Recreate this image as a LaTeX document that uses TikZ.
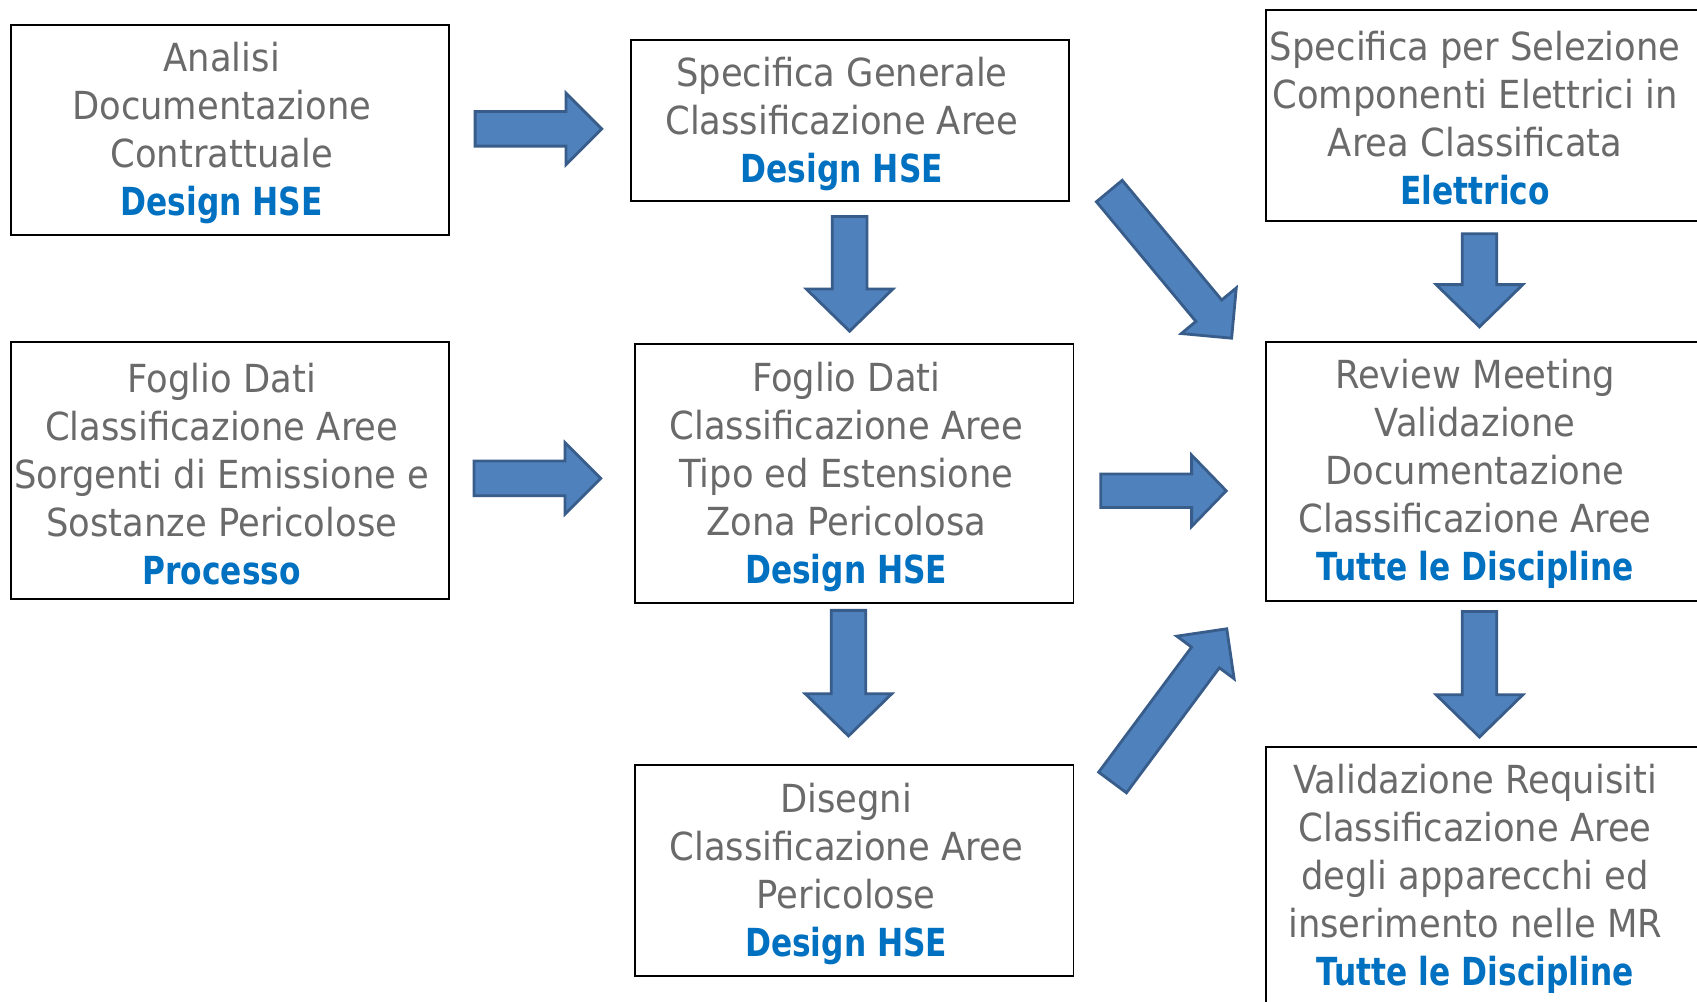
\documentclass[tikz,border=0pt]{standalone}
\usepackage{fontspec}
\usetikzlibrary{calc}
\setmainfont{DejaVu Sans}[FakeStretch=0.915]
\newfontfamily\discfont{DejaVu Sans}[FakeStretch=0.81]

\definecolor{graytxt}{HTML}{6A6A6A}
\definecolor{bluetxt}{HTML}{0070C0}
\definecolor{arrowfill}{HTML}{4F81BD}
\definecolor{arrowline}{HTML}{385D8A}

\tikzset{
  box/.style={draw=black, line width=1.8pt, rectangle, anchor=north west, inner sep=0pt},
  txt/.style={align=center, text=graytxt, inner sep=0pt,
              font=\fontsize{35.7}{44.3}\selectfont},
  arrowbody/.style={fill=arrowfill, draw=arrowline, line width=2.6pt, line join=miter},
}

% discipline line, set in bold blue
\newcommand{\disc}[1]{{\discfont\bfseries\color{bluetxt}#1}}

% block arrow from coordinate #1 to coordinate #2:
% #3 shaft half width, #4 head half width, #5 head length
\newcommand{\blockarrow}[5]{%
  \path let \p1=(#1), \p2=(#2) in \pgfextra{%
    \pgfmathsetmacro\arrang{atan2(\y2-\y1,\x2-\x1)}%
    \pgfmathsetmacro\arrlen{veclen(\x2-\x1,\y2-\y1)}%
    \xdef\arrang{\arrang}\xdef\arrlen{\arrlen}};
  \begin{scope}[shift={(#1)}, rotate=\arrang]
    \draw[arrowbody] (0,#3) -- ({\arrlen-#5},#3) -- ({\arrlen-#5},#4)
      -- (\arrlen,0) -- ({\arrlen-#5},-#4) -- ({\arrlen-#5},-#3)
      -- (0,-#3) -- cycle;
  \end{scope}}

\begin{document}
\begin{tikzpicture}[x=1pt, y=-1pt]
\useasboundingbox[fill=white] (0,0) rectangle (1568,925);

% boxes
\node[box, minimum width=405, minimum height=194] (b1) at (9,22) {};
\node[box, minimum width=405, minimum height=149] (b2) at (582,36) {};
\node[box, minimum width=420, minimum height=195] (b3) at (1169,8) {};
\node[box, minimum width=405, minimum height=238] (b4) at (9,315) {};
\node[box, minimum width=405, minimum height=239] (b5) at (586,317) {};
\node[box, minimum width=420, minimum height=239] (b6) at (1169,315) {};
\node[box, minimum width=405, minimum height=195] (b7) at (586,706) {};
\node[box, minimum width=420, minimum height=239] (b8) at (1169,689) {};

% texts
\node[txt] (t1) at ($(b1.center)+(-7.5,3)$) {Analisi\\Documentazione\\Contrattuale\\\disc{Design HSE}};
\node[txt] (t2) at ($(b2.center)+(-7.5,3)$) {Specifica Generale\\Classificazione Aree\\\disc{Design HSE}};
\node[txt] (t3) at (1363,109) {Specifica per Selezione\\Componenti Elettrici in\\Area Classificata\\\disc{Elettrico}};
\node[txt] (t4) at ($(b4.center)+(-7.5,3)$) {Foglio Dati\\Classificazione Aree\\Sorgenti di Emissione e\\Sostanze Pericolose\\\disc{Processo}};
\node[txt] (t5) at ($(b5.center)+(-7.5,3)$) {Foglio Dati\\Classificazione Aree\\Tipo ed Estensione\\Zona Pericolosa\\\disc{Design HSE}};
\node[txt] (t6) at (1363,438) {Review Meeting\\Validazione\\Documentazione\\Classificazione Aree\\\disc{Tutte le Discipline}};
\node[txt] (t7) at ($(b7.center)+(-7.5,3)$) {Disegni\\Classificazione Aree\\Pericolose\\\disc{Design HSE}};
\node[txt] (t8) at (1363,812) {Validazione Requisiti\\Classificazione Aree\\degli apparecchi ed\\inserimento nelle MR\\\disc{Tutte le Discipline}};

% arrow end points
\coordinate (a1s) at (439,119);   \coordinate (a1e) at (556,119);
\coordinate (a2s) at (438,442);   \coordinate (a2e) at (555,442);
\coordinate (a3s) at (785,200);   \coordinate (a3e) at (785,306);
\coordinate (a4s) at (784,564);   \coordinate (a4e) at (784,680);
\coordinate (a5s) at (1017,453.5); \coordinate (a5e) at (1133,453.5);
\coordinate (a6s) at (1025,176.5); \coordinate (a6e) at (1138,312.5);
\coordinate (a7s) at (1028,723);  \coordinate (a7e) at (1133.5,581);
\coordinate (a8s) at (1367,216);  \coordinate (a8e) at (1367,302);
\coordinate (a9s) at (1367,565);  \coordinate (a9e) at (1367,681);

% block arrows
\blockarrow{a1s}{a1e}{16}{33}{33}
\blockarrow{a2s}{a2e}{16}{33}{33}
\blockarrow{a5s}{a5e}{15.5}{33}{32}
\blockarrow{a3s}{a3e}{16}{40}{39}
\blockarrow{a4s}{a4e}{16}{40}{39}
\blockarrow{a8s}{a8e}{16}{40}{39}
\blockarrow{a9s}{a9e}{16}{40}{39}
\blockarrow{a6s}{a6e}{15.5}{33}{33}
\blockarrow{a7s}{a7e}{16}{33}{33}
\end{tikzpicture}
\end{document}
